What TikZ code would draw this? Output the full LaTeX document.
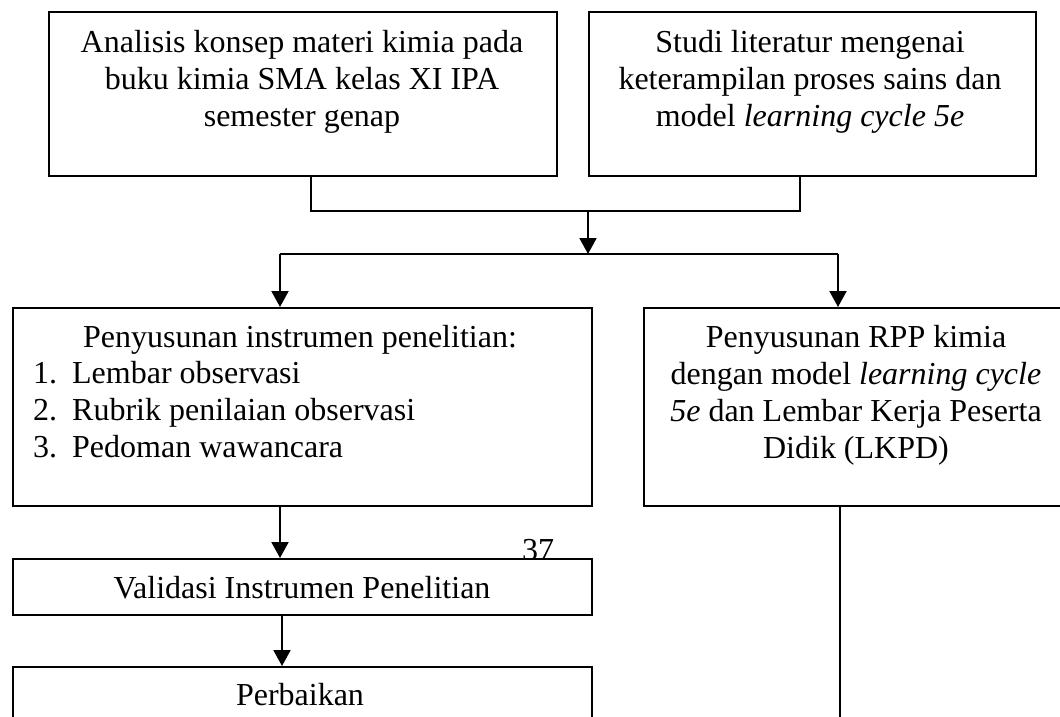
\documentclass[tikz,border=0pt]{standalone}
\usepackage{fontspec}
\setmainfont{Liberation Serif}
\usetikzlibrary{arrows.meta,calc}
\begin{document}
\begin{tikzpicture}[x=1pt,y=-1pt,
  boxshape/.style={draw, line width=2pt, inner sep=0pt, anchor=north west, fill=white},
  txt/.style={inner sep=0pt, font=\fontsize{32}{37}\selectfont, align=center},
  link/.style={line width=2pt},
  arr/.style={line width=2pt, -{Triangle[width=17pt,length=16pt]}}]
\useasboundingbox (0,0) rectangle (1060,717);
\clip (0,0) rectangle (1060,717);
\fill[white] (0,0) rectangle (1060,717);

% top boxes
\node[boxshape, minimum width=508pt, minimum height=164pt] (A) at (48,11) {};
\node[boxshape, minimum width=447pt, minimum height=164pt] (B) at (588,11) {};
\node[txt, anchor=north] (At) at (302,30) {Analisis konsep materi kimia pada\\buku kimia SMA kelas XI IPA\\semester genap};
\node[txt, anchor=north] (Bt) at (810,30) {Studi literatur mengenai\\keterampilan proses sains dan\\model \textit{learning cycle 5e}};

% middle boxes
\node[boxshape, minimum width=579pt, minimum height=198pt] (C) at (12,307) {};
\node[boxshape, minimum width=430pt, minimum height=198pt] (D) at (643,307) {};
\node[txt, anchor=north] (Ct) at (300,325) {Penyusunan instrumen penelitian:};
\node[txt, anchor=north west, align=left] (Cl) at (33,361) {\makebox[39pt][l]{1.}Lembar observasi\\\makebox[39pt][l]{2.}Rubrik penilaian observasi\\\makebox[39pt][l]{3.}Pedoman wawancara};
\node[txt, anchor=north] (Dt) at (856,325) {Penyusunan RPP kimia\\dengan model \textit{learning cycle}\\\textit{5e} dan Lembar Kerja Peserta\\Didik (LKPD)};

% page number (partly hidden by the box below)
\node[txt, anchor=base] (pg) at (538,560) {37};

% lower boxes
\node[boxshape, minimum width=579pt, minimum height=56pt] (V) at (12,558) {};
\node[boxshape, minimum width=579pt, minimum height=90pt] (P) at (12,666) {};
\node[txt, anchor=base] (Vt) at (302,598) {Validasi Instrumen Penelitian};
\node[txt, anchor=base] (Pt) at (300,705) {Perbaikan};

% connectors
\coordinate (ja) at (311,211);
\coordinate (jb) at (800,211);
\coordinate (jm) at (588,211);
\coordinate (sp) at (588,254);
\coordinate (sl) at (280,254);
\coordinate (sr) at (838,254);
\coordinate (cv) at (280,0);
\coordinate (vp) at (282,0);
\coordinate (dend) at (840,717);

\draw[link] (A.south -| ja) -- (ja) -- (jb) -- (jb |- B.south);
\draw[arr] (jm) -- (sp);
\draw[link] (sl) -- (sr);
\draw[arr] (sl) -- (sl |- C.north);
\draw[arr] (sr) -- (sr |- D.north);
\draw[arr] (C.south -| cv) -- (V.north -| cv);
\draw[arr] (V.south -| vp) -- (P.north -| vp);
\draw[link] (D.south -| dend) -- (dend);
\end{tikzpicture}
\end{document}
